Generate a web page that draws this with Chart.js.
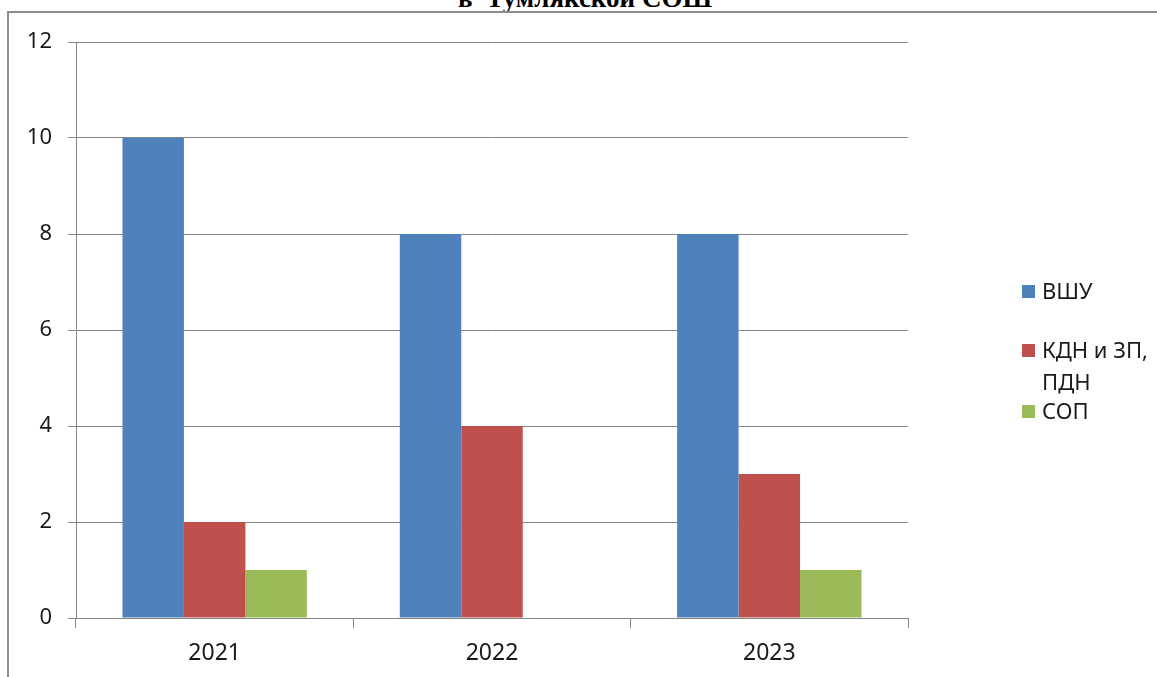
<!DOCTYPE html>
<html>
<head>
<meta charset="utf-8">
<script src="https://cdn.jsdelivr.net/npm/chart.js@4"></script>
<style>
  html, body { margin: 0; padding: 0; background: #fff; overflow: hidden; }
  #wrap { position: relative; width: 1157px; height: 677px; }
  #frame { position: absolute; left: 7px; top: 11px; right: -10px; bottom: -10px;
           border-top: 2px solid #8c8c8c; border-left: 2px solid #8c8c8c; }
  #title { position: absolute; left: 0; width: 1170px; top: -15px; text-align: center;
           font: bold 27px "Liberation Serif", serif; color: #000; line-height: 27px; white-space: pre; }
  canvas { position: absolute; left: 0; top: 0; }
  .leg { position: absolute; left: 1042px; font: 22px "Noto Sans", sans-serif; color: #1a1a1a;
         line-height: 30px; white-space: nowrap; }
  .sw { position: absolute; left: 1022px; width: 13px; height: 13px; }
</style>
</head>
<body>
<div id="wrap">
  <div id="title">в  Тумлякской СОШ</div>
  <div id="frame"></div>
  <canvas id="chart" width="1157" height="677"></canvas>
  <div id="legend"></div>
</div>
<script>
const years = ["2021", "2022", "2023"];
const vshu = [10, 8, 8];
const kdn = [2, 4, 3];
const sop = [1, 0, 1];
const seriesNames = ["ВШУ", "КДН и ЗП, ПДН", "СОП"];
const colors = ["#4f81bd", "#c0504d", "#9bbb59"];

// legend as html, the second label wraps onto two lines like in the original
const legendEl = document.getElementById("legend");
const legendRows = [
  { series: 0, text: "ВШУ", y: 291 },
  { series: 1, text: "КДН и ЗП,", y: 350 },
  { series: -1, text: "ПДН", y: 382 },
  { series: 2, text: "СОП", y: 411 },
];
legendRows.forEach((r) => {
  const t = document.createElement("div");
  t.className = "leg";
  t.style.top = Math.round(r.y - 15.7) + "px";
  t.textContent = r.text;
  legendEl.appendChild(t);
  if (r.series >= 0) {
    const s = document.createElement("div");
    s.className = "sw";
    s.style.top = Math.round(r.y - 6) + "px";
    s.style.background = colors[r.series];
    legendEl.appendChild(s);
  }
});

const grey = "#868686";
new Chart(document.getElementById("chart").getContext("2d"), {
  type: "bar",
  data: {
    labels: years,
    datasets: [
      { label: seriesNames[0], data: vshu, backgroundColor: colors[0] },
      { label: seriesNames[1], data: kdn, backgroundColor: colors[1] },
      { label: seriesNames[2], data: sop, backgroundColor: colors[2] },
    ],
  },
  options: {
    responsive: false,
    animation: false,
    layout: { padding: { left: 0, right: 249, top: 42, bottom: 0 } },
    datasets: { bar: { categoryPercentage: 0.665, barPercentage: 1 } },
    plugins: { legend: { display: false }, tooltip: { enabled: false } },
    scales: {
      x: {
        afterFit: (s) => { s.height = 59; },
        grid: { drawOnChartArea: false, color: grey, tickLength: 10 },
        border: { color: grey },
        ticks: { padding: 12, color: "#1a1a1a", font: { family: "Noto Sans", size: 23 } },
      },
      y: {
        min: 0,
        max: 12,
        afterFit: (s) => { s.width = 76; },
        grid: { color: grey, tickLength: 8 },
        border: { color: grey },
        ticks: { stepSize: 2, padding: 16, color: "#1a1a1a", font: { family: "Noto Sans", size: 22 } },
      },
    },
  },
});
</script>
</body>
</html>
